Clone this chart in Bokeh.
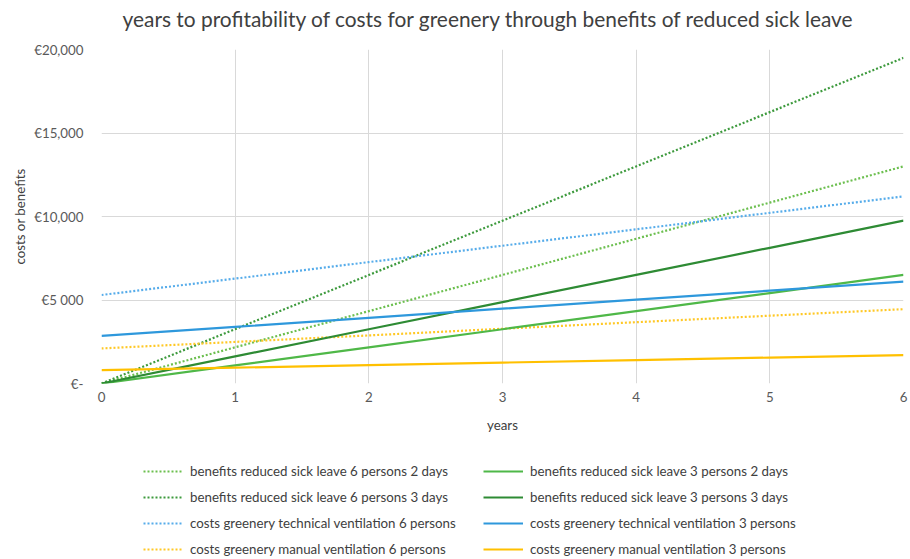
from bokeh.plotting import figure
from bokeh.models import Legend, LegendItem, FixedTicker, Label
from bokeh.layouts import column
from bokeh.embed import file_html
from bokeh.resources import INLINE

years = [0, 1, 2, 3, 4, 5, 6]
benefits_6p_2d = [0, 2167, 4333, 6500, 8667, 10833, 13000]
benefits_6p_3d = [0, 3250, 6500, 9750, 13000, 16250, 19500]
benefits_3p_2d = [0, 1083, 2167, 3250, 4333, 5417, 6500]
benefits_3p_3d = [0, 1625, 3250, 4875, 6500, 8125, 9750]
tech_6p = [5300, 6280, 7270, 8250, 9230, 10220, 11200]
tech_3p = [2850, 3390, 3930, 4480, 5020, 5560, 6100]
manual_6p = [2100, 2490, 2880, 3280, 3670, 4060, 4450]
manual_3p = [800, 950, 1100, 1250, 1400, 1550, 1700]

y_ticks = [0, 5000, 10000, 15000, 20000]
y_tick_labels = ["€-", "€5 000", "€10,000", "€15,000", "€20,000"]

TITLE = "years to profitability of costs for greenery through benefits of reduced sick leave"
FONT = "Lato"
TXT = "#595959"


def strip(height):
    f = figure(width=910, height=height, x_range=(0, 1), y_range=(0, 1),
               output_backend="svg", toolbar_location=None,
               x_axis_location=None, y_axis_location=None,
               min_border_left=0, min_border_right=0, min_border_top=0, min_border_bottom=0)
    f.outline_line_color = None
    f.xgrid.visible = False
    f.ygrid.visible = False
    return f


# title strip (its frame lines up with the chart's frame)
tt = strip(41)
tt.add_layout(Label(x=21, y=23, x_units="screen", y_units="screen", text=TITLE,
                    text_font=FONT, text_font_size="20.9px", text_color="#404040",
                    text_baseline="middle", text_align="left"))

p = figure(width=910, height=404, x_range=(0, 6), y_range=(0, 20000),
           output_backend="svg", toolbar_location=None,
           min_border_left=101, min_border_right=7, min_border_top=8, min_border_bottom=62)

p.outline_line_color = None
p.background_fill_color = "white"
p.border_fill_color = "white"
p.xgrid.grid_line_color = "#d9d9d9"
p.ygrid.grid_line_color = "#d9d9d9"
p.xaxis.ticker = FixedTicker(ticks=years)
p.yaxis.ticker = FixedTicker(ticks=y_ticks)
p.yaxis.major_label_overrides = {t: l for t, l in zip(y_ticks, y_tick_labels)}

for ax in (p.xaxis[0], p.yaxis[0]):
    ax.axis_line_color = None
    ax.major_tick_line_color = None
    ax.minor_tick_line_color = None
    ax.major_label_text_font = FONT
    ax.major_label_text_font_size = "13.3px"
    ax.major_label_text_color = TXT
    ax.axis_label_text_font = FONT
    ax.axis_label_text_font_size = "13.3px"
    ax.axis_label_text_font_style = "normal"
    ax.axis_label_text_color = "#404040"

p.xaxis.axis_label = "years"
p.yaxis.axis_label = "costs or benefits"
p.xaxis.major_label_standoff = 2
p.xaxis.axis_label_standoff = 12
p.yaxis.major_label_standoff = 12
p.yaxis.axis_label_standoff = 3

series = [
    ("benefits reduced sick leave 6 persons 2 days", benefits_6p_2d, "#6cbf4f", "dotted"),
    ("benefits reduced sick leave 6 persons 3 days", benefits_6p_3d, "#3d9a3d", "dotted"),
    ("costs greenery technical ventilation 6 persons", tech_6p, "#56acea", "dotted"),
    ("costs greenery manual ventilation 6 persons", manual_6p, "#ffc825", "dotted"),
    ("benefits reduced sick leave 3 persons 2 days", benefits_3p_2d, "#4fb848", "solid"),
    ("benefits reduced sick leave 3 persons 3 days", benefits_3p_3d, "#2e8b34", "solid"),
    ("costs greenery technical ventilation 3 persons", tech_3p, "#2e98dc", "solid"),
    ("costs greenery manual ventilation 3 persons", manual_3p, "#ffc000", "solid"),
]

# legend strip below the chart
lg = strip(114)

items = []
for name, vals, color, style in series:
    dash = "2 2" if style == "dotted" else "solid"
    p.line(years, vals, line_color=color, line_width=2.2, line_dash=dash)
    proxy = lg.line([-5, -4], [-5, -4], line_color=color, line_width=2.2, line_dash=dash)
    items.append(LegendItem(label=name, renderers=[proxy]))

common = dict(label_text_font=FONT, label_text_font_size="13.3px", label_text_color="#404040",
              glyph_width=40, glyph_height=20, label_height=20, label_standoff=7,
              spacing=6, padding=0, margin=0, border_line_color=None,
              background_fill_alpha=0)
lg.add_layout(Legend(items=items[:4], location=(42, 0), **common), "center")
lg.add_layout(Legend(items=items[4:], location=(382, 0), **common), "center")

open("out.html", "w").write(file_html(column(tt, p, lg, spacing=0), INLINE))
